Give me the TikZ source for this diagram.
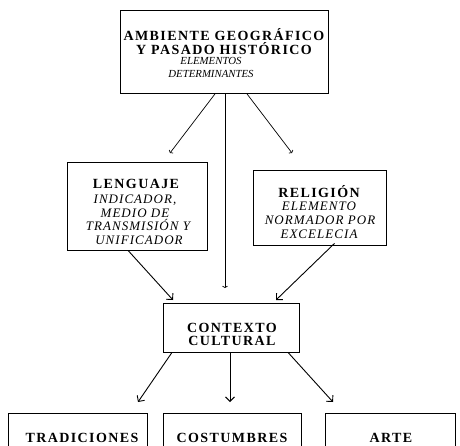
\documentclass[tikz,border=0pt]{standalone}
\usepackage{fontspec}
\setmainfont{Liberation Serif}
\newfontfamily\spaced[LetterSpace=10]{Liberation Serif}
\newfontfamily\spacedit[LetterSpace=8]{Liberation Serif}
\usetikzlibrary{arrows.meta}
\begin{document}
\begin{tikzpicture}[x=1pt,y=-1pt,
  box/.style={draw=black,line width=0.8pt,rectangle,inner sep=0pt},
  bl/.style={anchor=base,inner sep=0pt,font=\spaced\bfseries\fontsize{14}{16}\selectfont},
  itl/.style={anchor=base,inner sep=0pt,font=\spacedit\itshape\fontsize{13}{15}\selectfont},
  itt/.style={anchor=base,inner sep=0pt,font=\itshape\fontsize{10.8}{13}\selectfont},
  arr/.style={line width=0.9pt,-{Straight Barb[length=4.5pt,width=9pt,line width=0.9pt]}},
  sarr/.style={line width=0.7pt,-{Straight Barb[length=1.5pt,width=5pt,line width=0.7pt]}}]
\useasboundingbox (0,0) rectangle (460,445);
\clip (0,0) rectangle (460,445);
% boxes
\node[box,minimum width=208pt,minimum height=83pt] (top) at (224,52) {};
\node[box,minimum width=140pt,minimum height=88pt] (leng) at (137,206) {};
\node[box,minimum width=133pt,minimum height=75pt] (rel) at (319.5,207.5) {};
\node[box,minimum width=136pt,minimum height=49pt] (ctx) at (231,327.5) {};
\node[box,minimum width=139pt,minimum height=60pt] (trad) at (77.5,443) {};
\node[box,minimum width=138pt,minimum height=60pt] (cost) at (232,443) {};
\node[box,minimum width=130pt,minimum height=60pt] (arte) at (390,443) {};
% texts
\node[bl] (t1) at (224,40) {AMBIENTE GEOGRÁFICO};
\node[bl] (t2) at (224,54) {Y PASADO HISTÓRICO};
\node[itt] (t3) at (211,64.5) {ELEMENTOS};
\node[itt] (t4) at (211,77) {DETERMINANTES};
\node[bl] (l1) at (136,188) {LENGUAJE};
\node[itl] (l2) at (135,203) {INDICADOR,};
\node[itl] (l3) at (135,217) {MEDIO DE};
\node[itl] (l4) at (138,230) {TRANSMISIÓN Y};
\node[itl] (l5) at (139,244) {UNIFICADOR};
\node[bl] (r1) at (319,197) {RELIGIÓN};
\node[itl] (r2) at (319,210) {ELEMENTO};
\node[itl] (r3) at (320,224) {NORMADOR POR};
\node[itl] (r4) at (319,238) {EXCELECIA};
\node[bl] (c1) at (232,332) {CONTEXTO};
\node[bl] (c2) at (232,345) {CULTURAL};
\node[bl] (b1) at (82,442) {TRADICIONES};
\node[bl] (b2) at (232,442) {COSTUMBRES};
\node[bl] (b3) at (391,442) {ARTE};
% connectors
\coordinate (e1) at (170,153);
\coordinate (e2) at (225,288);
\coordinate (e3) at (292,153);
\draw[sarr] ([xshift=-9pt]top.south) -- (e1);
\draw[sarr] ([xshift=1pt]top.south) -- (e2);
\draw[sarr] ([xshift=23pt]top.south) -- (e3);
\coordinate (e4) at (173,300);
\coordinate (e5) at (276,300);
\draw[arr] ([xshift=-9pt]leng.south) -- (e4);
\draw[arr] ([xshift=15pt,yshift=2pt]rel.south) -- (e5);
\coordinate (e6) at (138,402);
\coordinate (e7) at (230,402);
\coordinate (e8) at (333,402);
\draw[arr] ([xshift=-59pt]ctx.south) -- (e6);
\draw[arr] ([xshift=-1pt]ctx.south) -- (e7);
\draw[arr] ([xshift=57pt]ctx.south) -- (e8);
\end{tikzpicture}
\end{document}
